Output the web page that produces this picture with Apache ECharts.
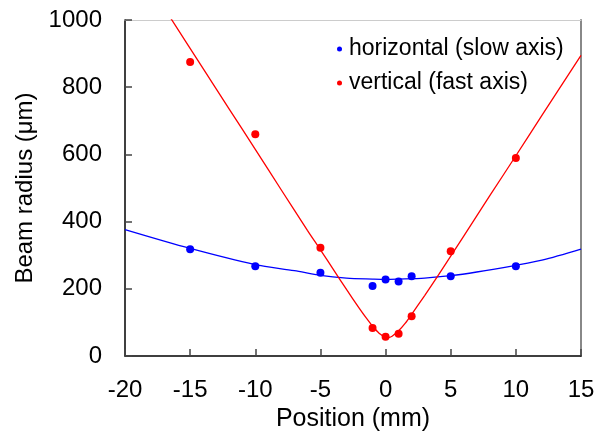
<!DOCTYPE html>
<html>
<head>
<meta charset="utf-8">
<script src="https://cdn.jsdelivr.net/npm/echarts@6/dist/echarts.min.js"></script>
<style>
html,body{margin:0;padding:0;background:#fff;}
#chart{width:607px;height:439px;}
</style>
</head>
<body>
<div id="chart"></div>
<script>
// Measured points
var horizX = [-15, -10, -5, -1, 0, 1, 2, 5, 10];
var horizY = [318, 267, 248, 208, 228, 222, 237, 237, 267];
var vertX = [-15, -10, -5, -1, 0, 1, 2, 5, 10];
var vertY = [875, 660, 322, 83, 57, 66, 118, 312, 589];
// Fit curves
var horizFitX = [-20, -15, -10, -7, -5, -3, -1, 0, 1, 3, 5, 7, 10, 12, 15];
var horizFitY = [376, 320, 272, 254, 240, 232, 229, 228, 229, 232, 239, 250, 270, 285, 318];
var vertFitX = [-16.6, -14, -12, -10, -8, -6, -5, -4, -3, -2, -1.5, -1, -0.5, 0, 0.2, 0.5, 1, 1.5, 2, 3, 4, 5, 6, 8, 10, 12, 15];
var vertFitY = [1012, 855, 735, 615, 494, 374, 316, 257, 198, 141, 114, 89, 68, 56, 55, 59, 75, 97, 124, 180, 238, 297, 357, 477, 596, 716, 895];
var xTicks = [-20, -15, -10, -5, 0, 5, 10, 15];
var yTicks = [0, 200, 400, 600, 800, 1000];

function pairs(xs, ys) { return xs.map(function (x, i) { return [x, ys[i]]; }); }

var FONT = 'Liberation Sans, Arial, sans-serif';
var chart = echarts.init(document.getElementById('chart'), null, {renderer: 'canvas'});
chart.setOption({
  animation: false,
  backgroundColor: '#fff',
  grid: {left: 125, right: 26, top: 20, bottom: 83, show: false},
  legend: {
    orient: 'vertical',
    left: 332,
    top: 32,
    itemWidth: 5,
    itemHeight: 5,
    itemGap: 10,
    icon: 'circle',
    data: ['horizontal (slow axis)', 'vertical (fast axis)'],
    textStyle: {fontFamily: FONT, fontSize: 23, color: '#000', lineHeight: 24, padding: [0, 0, 0, 2]}
  },
  xAxis: [{
    type: 'value',
    min: -20, max: 15, interval: 5,
    name: 'Position (mm)',
    nameLocation: 'middle',
    nameGap: 50,
    nameTextStyle: {fontFamily: FONT, fontSize: 25, color: '#000'},
    axisLine: {show: true, onZero: false, lineStyle: {color: '#000', width: 1.5}},
    axisTick: {show: true, inside: true, length: 7, lineStyle: {color: '#444', width: 1.5}},
    axisLabel: {fontFamily: FONT, fontSize: 24, color: '#000', margin: 22,
      formatter: function (v) { return xTicks.indexOf(v) >= 0 ? String(v) : ''; }},
    splitLine: {show: false}
  }, {
    type: 'value', position: 'top',
    min: -20, max: 15,
    axisLine: {show: true, onZero: false, lineStyle: {color: '#ccc', width: 1}},
    axisTick: {show: false}, axisLabel: {show: false}, splitLine: {show: false}
  }],
  yAxis: [{
    type: 'value',
    min: 0, max: 1000, interval: 200,
    name: 'Beam radius (\u03bcm)',
    nameLocation: 'middle',
    nameGap: 86,
    nameTextStyle: {fontFamily: FONT, fontSize: 24, color: '#000'},
    axisLine: {show: true, onZero: false, lineStyle: {color: '#000', width: 1.5}},
    axisTick: {show: true, inside: true, length: 7, lineStyle: {color: '#444', width: 1.5}},
    axisLabel: {fontFamily: FONT, fontSize: 24, color: '#000', margin: 23,
      formatter: function (v) { return yTicks.indexOf(v) >= 0 ? String(v) : ''; }},
    splitLine: {show: false}
  }, {
    type: 'value', position: 'right',
    min: 0, max: 1000,
    axisLine: {show: true, onZero: false, lineStyle: {color: '#888', width: 2}},
    axisTick: {show: false}, axisLabel: {show: false}, splitLine: {show: false}
  }],
  series: [
    {
      name: 'horizontal fit', type: 'line', data: pairs(horizFitX, horizFitY),
      smooth: 0.3, showSymbol: false, symbol: 'none', clip: true,
      lineStyle: {color: '#0000ff', width: 1.3}, z: 2
    },
    {
      name: 'vertical fit', type: 'line', data: pairs(vertFitX, vertFitY),
      smooth: 0.3, showSymbol: false, symbol: 'none', clip: true,
      lineStyle: {color: '#ff0000', width: 1.3}, z: 2
    },
    {
      name: 'horizontal (slow axis)', type: 'scatter', data: pairs(horizX, horizY),
      symbol: 'circle', symbolSize: 8, itemStyle: {color: '#0000ff', opacity: 1}, z: 3
    },
    {
      name: 'vertical (fast axis)', type: 'scatter', data: pairs(vertX, vertY),
      symbol: 'circle', symbolSize: 8, itemStyle: {color: '#ff0000', opacity: 1}, z: 3
    }
  ]
});
</script>
</body>
</html>
